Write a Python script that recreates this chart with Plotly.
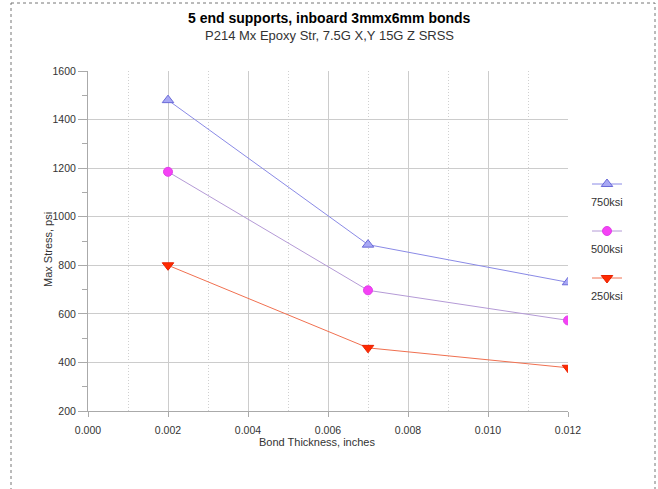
import plotly.graph_objects as go

# ---- data ----
thickness = [0.002, 0.007, 0.012]
stress_750 = [1480, 885, 730]
stress_500 = [1185, 697, 573]
stress_250 = [800, 460, 378]
series_names = ["750ksi", "500ksi", "250ksi"]
x_ticks = [0.000, 0.002, 0.004, 0.006, 0.008, 0.010, 0.012]
y_ticks = [200, 400, 600, 800, 1000, 1200, 1400, 1600]

# ---- styles ----
styles = {
    "750ksi": dict(line="#8a8ae6", fill="#a8a8f4", edge="#6a6ad8", symbol="triangle-up", size=10),
    "500ksi": dict(line="#b49ad6", fill="#f542f5", edge="#e040e8", symbol="circle", size=9),
    "250ksi": dict(line="#f07050", fill="#ff2a00", edge="#e82000", symbol="triangle-down", size=10),
}
series_vals = {"750ksi": stress_750, "500ksi": stress_500, "250ksi": stress_250}

FONT = "Arial, Liberation Sans, sans-serif"
W, H = 658, 489
ML, MT = 88, 71
PLOT_R, PLOT_B = 568, 411
MR = 6
MB = H - PLOT_B
paper_w = W - ML - MR
paper_h = H - MT - MB
main_dom = [0, (PLOT_R - ML) / paper_w]

def py(px):
    return (PLOT_B - px) / paper_h

def px_x(px):
    return (px - ML) / paper_w

fig = go.Figure()

for name in series_names:
    s = styles[name]
    fig.add_trace(go.Scatter(
        x=thickness, y=series_vals[name], mode="lines+markers", name=name,
        line=dict(color=s["line"], width=1),
        marker=dict(symbol=s["symbol"], size=s["size"], color=s["fill"],
                    line=dict(color=s["edge"], width=1)),
        showlegend=False, xaxis="x", yaxis="y",
    ))

# ---- custom legend (sample line + marker, label below) on a pixel-scaled helper axis ----
legend_rows_px = [184, 231, 278]
leg_x0, leg_x1 = 592, 622
for name, ypx in zip(series_names, legend_rows_px):
    s = styles[name]
    fig.add_trace(go.Scatter(
        x=[leg_x0, leg_x1], y=[ypx, ypx], mode="lines",
        line=dict(color=s["line"], width=1), showlegend=False,
        xaxis="x2", yaxis="y2", hoverinfo="skip",
    ))
    fig.add_trace(go.Scatter(
        x=[(leg_x0 + leg_x1) / 2], y=[ypx], mode="markers",
        marker=dict(symbol=s["symbol"], size=s["size"], color=s["fill"],
                    line=dict(color=s["edge"], width=1)),
        showlegend=False, xaxis="x2", yaxis="y2", hoverinfo="skip",
    ))
    fig.add_annotation(x=(leg_x0 + leg_x1) / 2, y=ypx + 18, xref="x2", yref="y2",
                       text=name, showarrow=False,
                       font=dict(family=FONT, size=11, color="#333333"))

fig.update_layout(
    width=W, height=H, autosize=False,
    margin=dict(l=ML, r=MR, t=MT, b=MB, autoexpand=False),
    paper_bgcolor="white", plot_bgcolor="white",
    font=dict(family=FONT, size=10, color="#333333"),
    xaxis=dict(
        domain=main_dom, range=[0, 0.012],
        tickvals=x_ticks, ticktext=[f"{v:.3f}" for v in x_ticks],
        showgrid=True, gridcolor="#cccccc", gridwidth=1,
        minor=dict(dtick=0.001, showgrid=True, gridcolor="#d0d0d0", griddash="1px,2px",
                   ticks=""),
        ticks="outside", ticklen=5, tickcolor="#aaaaaa",
        ticklabelstandoff=4,
        showline=True, linecolor="#aaaaaa", linewidth=1,
        zeroline=False, automargin=False,
        tickfont=dict(size=10.5, color="#333333"),
    ),
    yaxis=dict(
        range=[200, 1600], tickvals=y_ticks,
        showgrid=True, gridcolor="#cccccc", gridwidth=1,
        minor=dict(dtick=100, ticks="outside", ticklen=5, tickcolor="#aaaaaa", showgrid=False),
        ticks="outside", ticklen=9, tickcolor="#aaaaaa",
        showline=True, linecolor="#aaaaaa", linewidth=1,
        zeroline=False, automargin=False,
        tickfont=dict(size=10.5, color="#333333"),
    ),
    xaxis2=dict(domain=[main_dom[1], 1], range=[PLOT_R, W - MR], visible=False,
                anchor="y2", fixedrange=True, automargin=False),
    yaxis2=dict(domain=[0, 1], range=[PLOT_B, MT], visible=False,
                anchor="x2", fixedrange=True, automargin=False),
)

# chart titles
fig.add_annotation(text="<b>5 end supports, inboard 3mmx6mm bonds</b>", x=px_x(329), y=py(18),
                   xref="paper", yref="paper", showarrow=False, yanchor="middle",
                   font=dict(family=FONT, size=14, color="#000000"))
fig.add_annotation(text="P214 Mx Epoxy Str, 7.5G X,Y 15G Z SRSS", x=px_x(329), y=py(36),
                   xref="paper", yref="paper", showarrow=False, yanchor="middle",
                   font=dict(family=FONT, size=13, color="#333333"))
# axis titles
fig.add_annotation(text="Bond Thickness, inches", x=px_x(317), y=py(442),
                   xref="paper", yref="paper", showarrow=False, yanchor="middle",
                   font=dict(family=FONT, size=11, color="#333333"))
fig.add_annotation(text="Max Stress, psi", x=px_x(48), y=py(250), textangle=-90,
                   xref="paper", yref="paper", showarrow=False,
                   xanchor="center", yanchor="middle",
                   font=dict(family=FONT, size=11, color="#333333"))

# dotted outer border
fig.add_shape(type="rect", xref="paper", yref="paper",
              x0=px_x(11), x1=px_x(655), y0=py(3), y1=py(500),
              line=dict(color="#777777", width=1, dash="dot"))

fig.write_html(
    "out.html",
    config={"displayModeBar": False, "responsive": False},
    post_script="document.body.style.margin='0';document.body.style.overflow='hidden';",
)
